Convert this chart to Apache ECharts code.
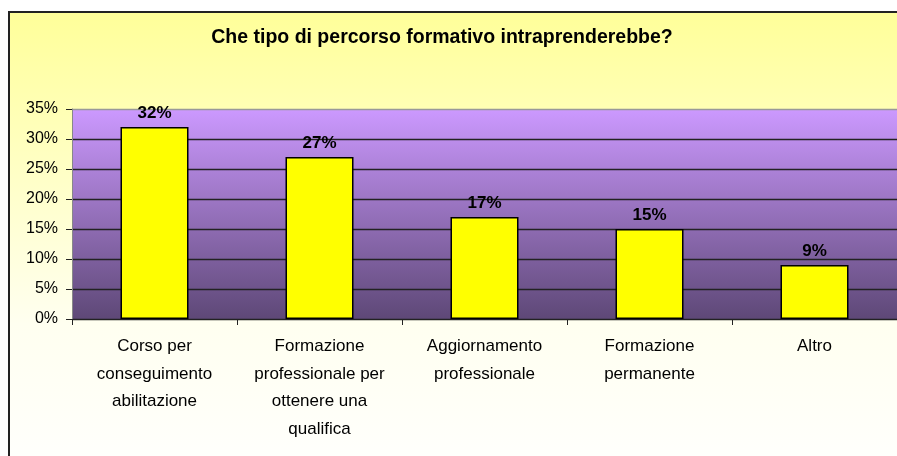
<!DOCTYPE html>
<html>
<head>
<meta charset="utf-8">
<script src="https://cdn.jsdelivr.net/npm/echarts@6/dist/echarts.min.js"></script>
<style>
  html, body { margin: 0; padding: 0; background: #fff; }
  #chart { width: 897px; height: 456px; }
</style>
</head>
<body>
<div id="chart"></div>
<script>
// Data
const titleText = 'Che tipo di percorso formativo intraprenderebbe?'
const categories = [
  'Corso per\nconseguimento\nabilitazione',
  'Formazione\nprofessionale per\nottenere una\nqualifica',
  'Aggiornamento\nprofessionale',
  'Formazione\npermanente',
  'Altro'
]
const percentages = [32, 27, 17, 15, 9]
const yTicks = [0, 5, 10, 15, 20, 25, 30, 35]

const font = '"Liberation Sans", Arial, sans-serif'
const chart = echarts.init(document.getElementById('chart'))

chart.setOption({
  animation: false,
  backgroundColor: '#ffffff',
  graphic: [{
    type: 'rect',
    z: -10,
    shape: { x: 9, y: 12, width: 920, height: 480 },
    style: {
      fill: new echarts.graphic.LinearGradient(0, 0, 0, 1, [
        { offset: 0, color: '#ffff99' },
        { offset: 0.65, color: '#fffff0' },
        { offset: 1, color: '#ffffff' }
      ]),
      stroke: '#222',
      lineWidth: 2
    }
  }],
  title: {
    text: titleText,
    left: 437,
    textAlign: 'center',
    top: 23,
    textStyle: { fontFamily: font, fontSize: 19.5, fontWeight: 'bold', color: '#000' }
  },
  grid: {
    left: 72,
    right: 0,
    top: 109,
    bottom: 137,
    show: true,
    borderWidth: 0,
    backgroundColor: new echarts.graphic.LinearGradient(0, 0, 0, 1, [
      { offset: 0, color: '#cc99ff' },
      { offset: 1, color: '#5e4877' }
    ])
  },
  xAxis: {
    type: 'category',
    data: categories,
    axisLine: { lineStyle: { color: '#222', width: 1 } },
    axisTick: { show: true, length: 6, lineStyle: { color: '#222' } },
    axisLabel: {
      interval: 0,
      margin: 14,
      fontFamily: font,
      fontSize: 17,
      lineHeight: 27.5,
      color: '#000',
      align: 'center'
    }
  },
  yAxis: {
    type: 'value',
    min: yTicks[0],
    max: yTicks[yTicks.length - 1],
    interval: 5,
    axisLine: { show: true, lineStyle: { color: '#888' } },
    axisTick: { show: true, length: 6, lineStyle: { color: '#222' } },
    axisLabel: {
      formatter: '{value}%',
      margin: 14,
      fontFamily: font,
      fontSize: 16,
      color: '#000'
    },
    splitLine: {
      lineStyle: {
        color: ['#222', '#222', '#222', '#222', '#222', '#222', '#222', '#999'],
        width: 1.3
      }
    }
  },
  series: [{
    type: 'bar',
    data: percentages,
    barWidth: 68,
    itemStyle: { color: '#ffff00', borderColor: '#000', borderWidth: 1.5 },
    label: {
      show: true,
      position: 'top',
      distance: 5,
      formatter: '{c}%',
      fontFamily: font,
      fontSize: 17,
      fontWeight: 'bold',
      color: '#000'
    }
  }]
})
</script>
</body>
</html>
